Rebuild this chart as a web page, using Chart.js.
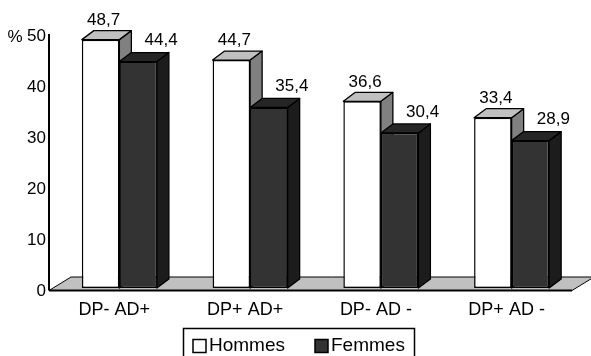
<!DOCTYPE html>
<html>
<head>
<meta charset="utf-8">
<script src="https://cdn.jsdelivr.net/npm/chart.js@4.4.1/dist/chart.umd.min.js"></script>
<style>
  html, body { margin: 0; padding: 0; background: #fff; }
</style>
</head>
<body>
<canvas id="grafico" width="591" height="356"></canvas>
<script>
// dados do gráfico
const categorias = ['DP- AD+', 'DP+ AD+', 'DP- AD -', 'DP+ AD -'];
const hommes = [48.7, 44.7, 36.6, 33.4];
const femmes = [44.4, 35.4, 30.4, 28.9];
const ticksY = [0, 10, 20, 30, 40, 50];

const fonte = "'Liberation Sans', Arial, sans-serif";
Chart.defaults.font.family = fonte;
Chart.defaults.color = '#000';

// profundidade do efeito 3D (x para a direita, y para cima)
const PROF_X = 12;
const PROF_Y = -9;

// cores das faces de cada série: frente, topo e lado
const faces = [
    { frente: '#ffffff', topo: '#c0c0c0', lado: '#808080' },
    { frente: '#333333', topo: '#262626', lado: '#1c1c1c' }
];

function poligono(ctx, pts, fill) {
    ctx.beginPath();
    ctx.moveTo(pts[0][0], pts[0][1]);
    for (let i = 1; i < pts.length; i++) ctx.lineTo(pts[i][0], pts[i][1]);
    ctx.closePath();
    ctx.fillStyle = fill;
    ctx.fill();
    ctx.stroke();
}

const barras3d = {
    id: 'barras3d',
    beforeDatasetsDraw(chart) {
        const ctx = chart.ctx;
        const area = chart.chartArea;

        // chão cinza
        const fy = area.bottom + 2.5;
        const fx0 = area.left - 5;
        const fx1 = area.right - 5;
        ctx.save();
        ctx.strokeStyle = '#000';
        ctx.lineWidth = 1;
        poligono(ctx, [[fx0, fy], [fx0 + 22, fy - 13.5], [fx1 + 22, fy - 13.5], [fx1, fy]], '#c0c0c0');
        ctx.lineWidth = 2;
        ctx.beginPath();
        ctx.moveTo(fx0, fy);
        ctx.lineTo(fx1, fy);
        ctx.stroke();

        // eixo vertical
        ctx.beginPath();
        ctx.moveTo(fx0, area.top + 1);
        ctx.lineTo(fx0, fy);
        ctx.stroke();

        // topo e lado de cada barra
        ctx.lineWidth = 1.3;
        ctx.lineJoin = 'round';
        for (let i = 0; i < categorias.length; i++) {
            for (let d = 0; d < chart.data.datasets.length; d++) {
                const bar = chart.getDatasetMeta(d).data[i];
                const l = bar.x - bar.width / 2;
                const r = bar.x + bar.width / 2;
                const t = bar.y;
                const b = bar.base;
                poligono(ctx, [[r, t], [r + PROF_X, t + PROF_Y], [r + PROF_X, b + PROF_Y], [r, b]], faces[d].lado);
                poligono(ctx, [[l, t], [l + PROF_X, t + PROF_Y], [r + PROF_X, t + PROF_Y], [r, t]], faces[d].topo);
            }
        }
        ctx.restore();
    },
    afterDatasetsDraw(chart) {
        const ctx = chart.ctx;
        ctx.save();
        ctx.font = '17px ' + fonte;
        ctx.fillStyle = '#000';
        ctx.textAlign = 'center';
        ctx.textBaseline = 'middle';
        // rótulos de valor com vírgula decimal
        const desloc = [[3, -19.5], [23, -21]];
        chart.data.datasets.forEach(function (ds, d) {
            chart.getDatasetMeta(d).data.forEach(function (bar, i) {
                const txt = ds.data[i].toFixed(1).replace('.', ',');
                ctx.fillText(txt, bar.x + desloc[d][0], bar.y + desloc[d][1]);
            });
        });

        // símbolo % ao lado do 50
        const y = chart.scales.y;
        ctx.fillText('%', 15, y.getPixelForValue(50) + 4);
        ctx.restore();
    },
    afterDraw(chart) {
        // legenda com moldura
        const ctx = chart.ctx;
        ctx.save();
        ctx.strokeStyle = '#000';
        ctx.lineWidth = 1.5;
        ctx.strokeRect(183.5, 328.5, 231, 40);
        ctx.font = '19px ' + fonte;
        ctx.textBaseline = 'middle';
        ctx.textAlign = 'left';
        const posicoes = [193, 315];
        chart.data.datasets.forEach(function (ds, d) {
            const x = posicoes[d];
            ctx.fillStyle = ds.backgroundColor;
            ctx.fillRect(x, 339.5, 13, 13);
            ctx.strokeRect(x, 339.5, 13, 13);
            ctx.fillStyle = '#000';
            ctx.fillText(ds.label, x + 16, 346);
        });
        ctx.restore();
    }
};

const config = {
    type: 'bar',
    data: {
        labels: categorias,
        datasets: [
            {
                label: 'Hommes',
                data: hommes,
                backgroundColor: faces[0].frente,
                borderColor: '#000',
                borderWidth: 1.5,
                borderSkipped: false,
                categoryPercentage: 0.574,
                barPercentage: 1
            },
            {
                label: 'Femmes',
                data: femmes,
                backgroundColor: faces[1].frente,
                borderColor: '#000',
                borderWidth: 1.5,
                borderSkipped: false,
                categoryPercentage: 0.574,
                barPercentage: 1
            }
        ]
    },
    options: {
        responsive: false,
        devicePixelRatio: 1,
        animation: false,
        layout: { padding: { top: 33, right: 14, left: 0, bottom: 0 } },
        plugins: {
            legend: { display: false },
            tooltip: { enabled: false }
        },
        scales: {
            x: {
                grid: { display: false, drawTicks: false },
                border: { display: false },
                ticks: {
                    font: { size: 18 },
                    color: '#000',
                    padding: 11,
                    labelOffset: -5,
                    maxRotation: 0,
                    autoSkip: false
                },
                afterFit(s) { s.height = 68; }
            },
            y: {
                min: 0,
                max: 50,
                grid: { display: false, drawTicks: false },
                border: { display: false },
                afterBuildTicks(s) { s.ticks = ticksY.map(v => ({ value: v })); },
                ticks: {
                    font: { size: 17 },
                    color: '#000',
                    padding: 8,
                    labelOffset: 3
                },
                afterFit(s) { s.width = 54; }
            }
        }
    },
    plugins: [barras3d]
};

new Chart(document.getElementById('grafico'), config);
</script>
</body>
</html>
